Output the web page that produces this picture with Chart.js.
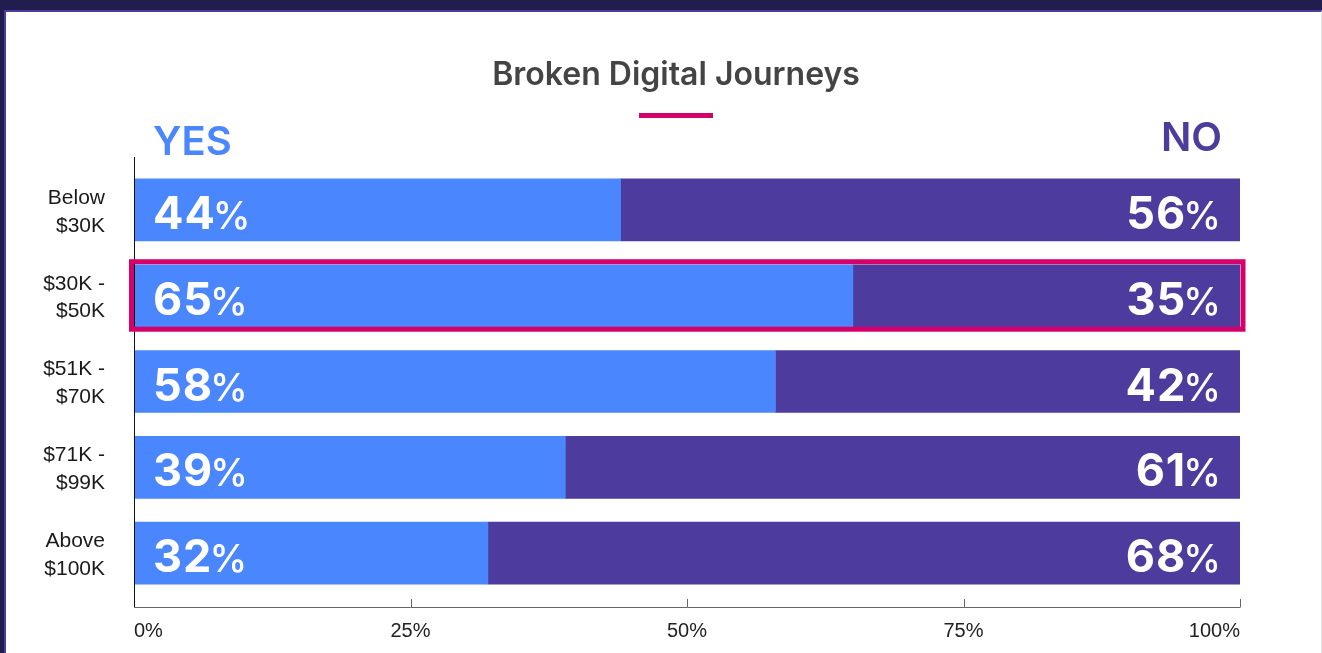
<!DOCTYPE html>
<html>
<head>
<meta charset="utf-8">
<title>Broken Digital Journeys</title>
<script src="https://cdn.jsdelivr.net/npm/chart.js@4.4.1/dist/chart.umd.min.js"></script>
<style>
  html, body { margin: 0; padding: 0; background: #211e4f; }
  .frame {
    position: absolute; left: 0; top: 0; width: 1322px; height: 653px;
    background: #211e4f; overflow: hidden;
  }
  .panel {
    position: absolute; left: 4px; top: 10px; width: 1315px; height: 660px;
    background: #fff; border-left: 2px solid #4b3ea0; border-top: 2px solid #4b3ea0;
    border-right: 1px solid #e4e4e8;
  }
  #chart { position: absolute; left: 0; top: 0; }
</style>
</head>
<body>
<div class="frame">
  <div class="panel"></div>
  <canvas id="chart" width="1322" height="653"></canvas>
</div>
<script>
// Income bands and answers to "Have you had a broken digital journey?"
const categories = [
  ['Below', '$30K'],
  ['$30K -', '$50K'],
  ['$51K -', '$70K'],
  ['$71K -', '$99K'],
  ['Above', '$100K'],
];
const yesValues = [44, 65, 58, 39, 32];
const noValues = [56, 35, 42, 61, 68];
const xTicks = [0, 25, 50, 75, 100];
const highlightIndex = 1;

const BLUE = '#4a86fd';
const PURPLE = '#4d3b9d';
const PINK = '#d6006b';
const NUM_FONT = 'Inter, "Noto Sans", sans-serif';
const LABEL_FONT = '"Liberation Sans", Arial, sans-serif';

// title, YES/NO headers, axis lines, value labels and the highlight box
const decorations = {
  id: 'decorations',
  afterDatasetsDraw(chart) {
    const { ctx, chartArea, scales } = chart;
    const x = scales.x;
    ctx.save();

    // title + accent rule
    ctx.fillStyle = '#444';
    ctx.font = `600 32px ${NUM_FONT}`;
    ctx.textAlign = 'center';
    ctx.textBaseline = 'alphabetic';
    ctx.fillText('Broken Digital Journeys', 676, 85);
    ctx.fillStyle = PINK;
    ctx.fillRect(639, 113, 74, 5);

    // series headers
    ctx.font = `600 40px ${NUM_FONT}`;
    ctx.fillStyle = BLUE;
    ctx.textAlign = 'left';
    ctx.fillText('YES', 153, 155);
    ctx.fillStyle = PURPLE;
    ctx.textAlign = 'right';
    ctx.fillText('NO', 1222, 151);

    // axes
    ctx.strokeStyle = '#111';
    ctx.lineWidth = 1;
    ctx.beginPath();
    ctx.moveTo(chartArea.left + 0.5, 157);
    ctx.lineTo(chartArea.left + 0.5, 607);
    ctx.stroke();
    ctx.strokeStyle = '#666';
    ctx.beginPath();
    ctx.moveTo(chartArea.left, 607.5);
    ctx.lineTo(x.getPixelForValue(100) + 0.5, 607.5);
    xTicks.slice(1).forEach((t) => {
      const px = Math.round(x.getPixelForValue(t)) + 0.5;
      ctx.moveTo(px, 599);
      ctx.lineTo(px, 607);
    });
    ctx.stroke();

    // value labels inside the bars: big number, slightly lighter "%"
    const numFont = `700 45px ${NUM_FONT}`;
    const pctFont = `500 38px ${NUM_FONT}`;
    const gap = -3;
    const drawPct = (v, px, py, align) => {
      ctx.letterSpacing = '1px';
      ctx.font = numFont;
      const nw = ctx.measureText(String(v)).width;
      ctx.letterSpacing = '0px';
      ctx.font = pctFont;
      const pw = ctx.measureText('%').width;
      const start = align === 'left' ? px : px - nw - gap - pw;
      ctx.textAlign = 'left';
      ctx.fillStyle = '#fff';
      ctx.letterSpacing = '1px';
      ctx.font = numFont;
      ctx.fillText(String(v), start, py);
      ctx.letterSpacing = '0px';
      ctx.font = pctFont;
      ctx.fillText('%', start + nw + gap, py);
    };
    const yesMeta = chart.getDatasetMeta(0);
    yesMeta.data.forEach((bar, i) => {
      drawPct(yesValues[i], 153, bar.y + 19, 'left');
      drawPct(noValues[i], 1221, bar.y + 19, 'right');
    });

    // highlighted band
    const hb = yesMeta.data[highlightIndex];
    const half = hb.height / 2;
    ctx.strokeStyle = PINK;
    ctx.lineWidth = 5;
    ctx.strokeRect(chartArea.left - 2.5, hb.y - half - 3, x.getPixelForValue(100) - chartArea.left + 5.5, hb.height + 5.5);

    ctx.restore();
  },
};

new Chart(document.getElementById('chart'), {
  type: 'bar',
  data: {
    labels: categories,
    datasets: [
      { label: 'YES', data: yesValues, backgroundColor: BLUE, barThickness: 62, borderWidth: 0 },
      { label: 'NO', data: noValues, backgroundColor: PURPLE, barThickness: 62, borderWidth: 0 },
    ],
  },
  options: {
    indexAxis: 'y',
    responsive: false,
    animation: false,
    layout: { padding: { top: 167, right: 82, bottom: 0, left: 0 } },
    plugins: {
      legend: { display: false },
      tooltip: { enabled: false },
      title: { display: false },
    },
    scales: {
      x: {
        stacked: true,
        min: 0,
        max: 100,
        afterBuildTicks: (scale) => { scale.ticks = xTicks.map((v) => ({ value: v })); },
        afterFit: (scale) => { scale.height = 56; },
        grid: { display: false, drawTicks: false },
        border: { display: false },
        ticks: {
          align: 'inner',
          padding: 23,
          color: '#222',
          font: { family: LABEL_FONT, size: 20 },
          callback: (v) => v + '%',
        },
      },
      y: {
        stacked: true,
        afterFit: (scale) => { scale.width = 134; },
        grid: { display: false, drawTicks: false },
        border: { display: false },
        ticks: {
          padding: 29,
          labelOffset: 2,
          color: '#1a1a1a',
          font: { family: LABEL_FONT, size: 21, lineHeight: 1.33 },
        },
      },
    },
  },
  plugins: [decorations],
});
</script>
</body>
</html>
